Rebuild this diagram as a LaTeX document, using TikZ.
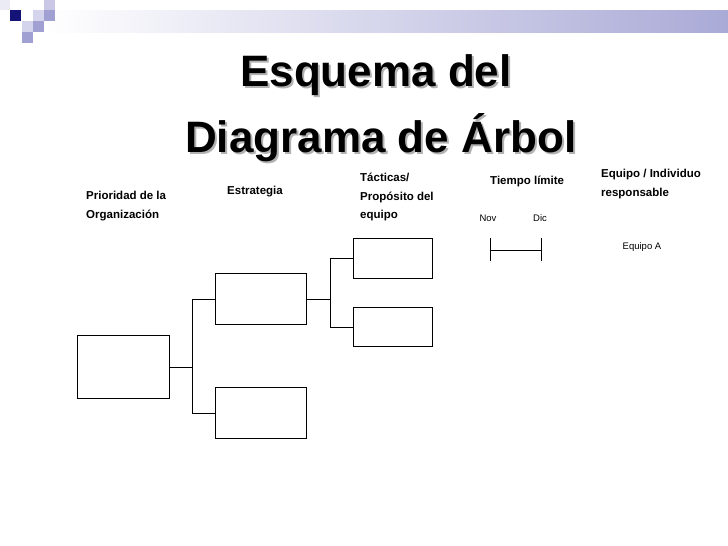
\documentclass[tikz,border=0pt]{standalone}
\usepackage{fontspec}
\setmainfont{Liberation Sans}
\definecolor{cA}{RGB}{235,235,245}
\definecolor{cD}{RGB}{20,20,120}
\definecolor{cB}{RGB}{200,200,230}
\definecolor{cM}{RGB}{160,160,210}
\definecolor{cL}{RGB}{212,212,236}
\definecolor{cBar}{RGB}{170,170,215}
\begin{document}
\begin{tikzpicture}[x=1pt,y=-1pt,
  bx/.style={draw,line width=0.8pt,anchor=north west,inner sep=0pt},
  lbl/.style={font=\bfseries\fontsize{11.5}{18.5}\selectfont,anchor=north west,align=left,inner sep=0pt},
  sm/.style={font=\fontsize{9.5}{11}\selectfont,inner sep=0pt},
  ttl/.style={font=\bfseries\fontsize{44}{48}\selectfont,anchor=west,inner sep=0pt},
  ln/.style={line width=0.8pt}]
\useasboundingbox (0,0) rectangle (728,546);
\fill[white] (0,0) rectangle (728,546);
% decoration
\shade[left color=white,right color=cBar] (45,10) rectangle (728,32);
\fill[cA] (0,0) rectangle (10,10);
\fill[cD] (10,10) rectangle (21,21);
\fill[cB] (44,0) rectangle (55,10);
\fill[cM] (44,10) rectangle (55,21);
\fill[cL] (33,10) rectangle (44,21);
\fill[cL] (22,21) rectangle (33,32);
\fill[cM] (33,21) rectangle (44,32);
\fill[cM] (22,32) rectangle (33,43);
% title
\node[ttl,text=gray!60] (t1s) at (242,77) {Esquema del};
\node[ttl,text=gray!60] (t2s) at (187,140) {Diagrama de Árbol};
\node[ttl] (t1) at (240,75) {Esquema del};
\node[ttl] (t2) at (185,138) {Diagrama de Árbol};
% labels
\node[lbl] (l1) at (86,191) {Prioridad de la\\Organización};
\node[lbl] (l2) at (227,186) {Estrategia};
\node[lbl] (l3) at (360,173) {Tácticas/\\Propósito del\\equipo};
\node[lbl] (l4) at (490,176) {Tiempo límite};
\node[lbl] (l5) at (601,169) {Equipo / Individuo\\responsable};
\node[sm] (nov) at (488,218) {Nov};
\node[sm] (dic) at (540,218) {Dic};
\node[sm] (ea) at (642,247) {Equipo A};
% boxes
\node[bx,minimum width=92pt,minimum height=63pt] (r) at (77,335) {};
\node[bx,minimum width=91pt,minimum height=51pt] (s1) at (215,273) {};
\node[bx,minimum width=91pt,minimum height=51pt] (s2) at (215,387) {};
\node[bx,minimum width=79pt,minimum height=40pt] (t1b) at (353,238) {};
\node[bx,minimum width=79pt,minimum height=39pt] (t2b) at (353,307) {};
% connectors
\draw[ln] (r.east) -- ++(23,0) coordinate (j1);
\draw[ln] (s1.west) -| (j1) |- (s2.west);
\draw[ln] (s1.east) -- ++(24,0) coordinate (j2);
\draw[ln] (t1b.west) -| (j2) |- (t2b.west);
% timeline
\coordinate (a1) at (490,238); \coordinate (a2) at (490,261);
\coordinate (b1) at (541,238); \coordinate (b2) at (541,261);
\draw[ln] (a1) -- (a2); \draw[ln] (b1) -- (b2);
\draw[ln] (490,250) -- (541,250);
\end{tikzpicture}
\end{document}
